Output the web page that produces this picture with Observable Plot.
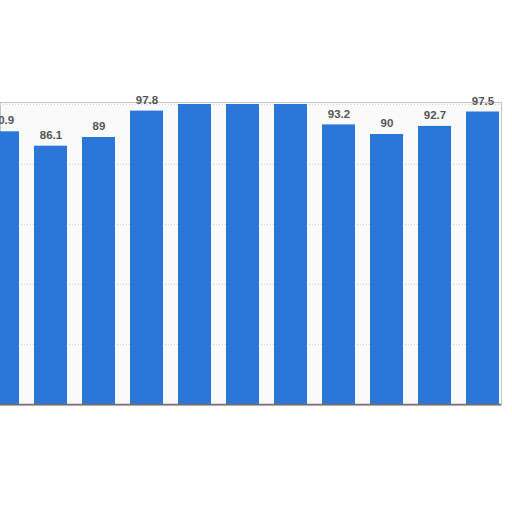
<!DOCTYPE html>
<html><head><meta charset="utf-8">
<script src="https://cdn.jsdelivr.net/npm/d3@7"></script>
<script src="https://cdn.jsdelivr.net/npm/@observablehq/plot@0.6"></script>
<style>body{margin:0;background:#fff} g[aria-label="frame"]{filter: drop-shadow(2px 1px 2px rgba(0,0,0,0.28));}</style>
</head><body><div id="chart"></div>
<script>
const categories = ["2010","2011","2012","2013","2014","2015","2016","2017","2018","2019","2020"];
const values = [90.9, 86.1, 89, 97.8, 100, 100, 100, 93.2, 90, 92.7, 97.5];
const gridTicks = [20, 40, 60, 80, 100];
const data = categories.map((c, i) => ({category: c, value: values[i]}));
const chart = Plot.plot({
  width: 512, height: 512,
  marginTop: 102, marginBottom: 107, marginLeft: 0, marginRight: 11,
  style: {background: "#fff", overflow: "hidden"},
  x: {domain: categories, range: [-22.6, 507.6], paddingInner: 0.31, paddingOuter: 0.155, axis: null},
  y: {domain: [0, 100], range: [404, 104], axis: null},
  marks: [
    Plot.frame({fill: "#fafafa", stroke: "#c4c4c4", strokeWidth: 1}),
    Plot.ruleY(gridTicks, {stroke: "#d6d6d6", strokeDasharray: "1,2"}),
    Plot.barY(data, {x: "category", y: "value", fill: "#2b77d9"}),
    Plot.ruleY([0], {stroke: "#707070", strokeWidth: 1.5}),
    Plot.text(data.filter(d => d.value < 99), {
      x: "category", y: "value", text: d => String(d.value), dy: -11,
      fontSize: 11.5, fontWeight: "bold", fill: "#555555", fontFamily: "Liberation Sans, Arial, sans-serif"
    })
  ]
});
document.getElementById("chart").appendChild(chart);
</script>
</body></html>
